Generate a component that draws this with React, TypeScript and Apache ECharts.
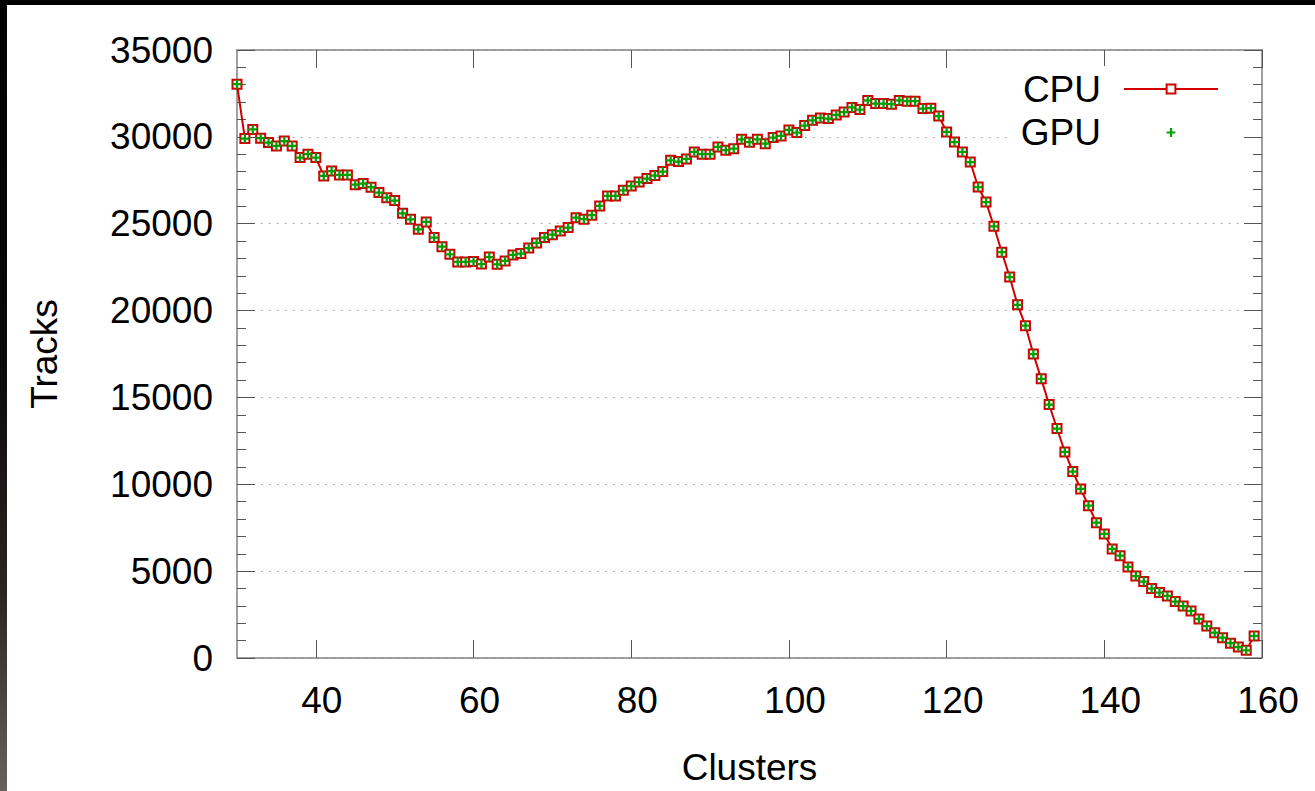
import React, { useEffect, useRef } from "react";
import * as echarts from "echarts";

const clusters = [
  30, 31, 32, 33, 34, 35, 36, 37, 38, 39, 40, 41, 42, 43, 44, 45, 46, 47, 48, 49,
  50, 51, 52, 53, 54, 55, 56, 57, 58, 59, 60, 61, 62, 63, 64, 65, 66, 67, 68, 69,
  70, 71, 72, 73, 74, 75, 76, 77, 78, 79, 80, 81, 82, 83, 84, 85, 86, 87, 88, 89,
  90, 91, 92, 93, 94, 95, 96, 97, 98, 99, 100, 101, 102, 103, 104, 105, 106, 107, 108, 109,
  110, 111, 112, 113, 114, 115, 116, 117, 118, 119, 120, 121, 122, 123, 124, 125, 126, 127, 128, 129,
  130, 131, 132, 133, 134, 135, 136, 137, 138, 139, 140, 141, 142, 143, 144, 145, 146, 147, 148, 149,
  150, 151, 152, 153, 154, 155, 156, 157, 158, 159,
];

const cpuTracks = [
  33030, 29900, 30430, 29920, 29670, 29480, 29760, 29480, 28810, 29000,
  28810, 27750, 28030, 27810, 27810, 27250, 27310, 27100, 26790, 26500,
  26330, 25600, 25250, 24680, 25100, 24200, 23680, 23240, 22800, 22800,
  22830, 22680, 23080, 22660, 22860, 23200, 23280, 23600, 23890, 24200,
  24370, 24580, 24780, 25350, 25260, 25490, 26020, 26600, 26600, 26920,
  27170, 27400, 27600, 27770, 28000, 28650, 28580, 28730, 29130, 29000,
  29000, 29420, 29230, 29320, 29860, 29690, 29860, 29610, 29960, 30050,
  30400, 30250, 30650, 30950, 31090, 31050, 31260, 31430, 31690, 31570,
  32100, 31920, 31920, 31880, 32100, 32050, 32050, 31630, 31650, 31200,
  30280, 29700, 29130, 28550, 27110, 26250, 24850, 23360, 21930, 20330,
  19130, 17500, 16070, 14590, 13210, 11860, 10730, 9730, 8770, 7790,
  7140, 6280, 5890, 5240, 4720, 4400, 4000, 3770, 3570, 3250,
  2990, 2710, 2250, 1840, 1460, 1170, 850, 630, 440, 1270,
];

const gpuTracks = [
  33030, 29900, 30430, 29920, 29670, 29480, 29760, 29480, 28810, 29000,
  28810, 27750, 28030, 27810, 27810, 27250, 27310, 27100, 26790, 26500,
  26330, 25600, 25250, 24680, 25100, 24200, 23680, 23240, 22800, 22800,
  22830, 22680, 23080, 22660, 22860, 23200, 23280, 23600, 23890, 24200,
  24370, 24580, 24780, 25350, 25260, 25490, 26020, 26600, 26600, 26920,
  27170, 27400, 27600, 27770, 28000, 28650, 28580, 28730, 29130, 29000,
  29000, 29420, 29230, 29320, 29860, 29690, 29860, 29610, 29960, 30050,
  30400, 30250, 30650, 30950, 31090, 31050, 31260, 31430, 31690, 31570,
  32100, 31920, 31920, 31880, 32100, 32050, 32050, 31630, 31650, 31200,
  30280, 29700, 29130, 28550, 27110, 26250, 24850, 23360, 21930, 20330,
  19130, 17500, 16070, 14590, 13210, 11860, 10730, 9730, 8770, 7790,
  7140, 6280, 5890, 5240, 4720, 4400, 4000, 3770, 3570, 3250,
  2990, 2710, 2250, 1840, 1460, 1170, 850, 630, 440, 1270,
];

const xTickValues = [40, 60, 80, 100, 120, 140, 160];
const seriesNames = ["CPU", "GPU"];

export default function App() {
  const ref = useRef<HTMLDivElement>(null);

  useEffect(() => {
    document.body.style.margin = "0";
    const chart = echarts.init(ref.current!, null, { renderer: "svg" });
    const font = "'Liberation Sans', Arial, Helvetica, sans-serif";
    const fs = 37;
    const borderLine = { show: true, onZero: false, lineStyle: { color: "#808080", width: 1.5 } };
    const tickStyle = { color: "#555", width: 1 };

    chart.setOption({
      animation: false,
      backgroundColor: "#ffffff",
      textStyle: { fontFamily: font },
      grid: { left: 237, right: 53, top: 50, bottom: 133 },
      legend: {
        orient: "vertical",
        right: 96,
        top: 69,
        padding: 0,
        align: "right",
        itemWidth: 94,
        itemHeight: 11,
        itemGap: 3.5,
        selectedMode: false,
        data: seriesNames,
        textStyle: { fontSize: fs, color: "#000", lineHeight: 40, padding: [0, 18, 0, 0], fontFamily: font },
      },
      graphic: [
        {
          type: "rect",
          z: 1,
          shape: { x: 1012, y: 66, width: 229, height: 92 },
          style: { fill: "#ffffff" },
        },
      ],
      xAxis: [
        {
          type: "value",
          position: "bottom",
          min: 30,
          max: 160,
          name: "Clusters",
          nameLocation: "middle",
          nameGap: 91,
          nameTextStyle: { fontSize: fs, color: "#000", fontFamily: font },
          axisLine: borderLine,
          axisTick: { show: true, inside: true, length: 18, customValues: xTickValues, lineStyle: tickStyle },
          axisLabel: {
            customValues: xTickValues,
            fontSize: fs,
            color: "#000",
            margin: 24,
            padding: [0, 0, 0, 12],
            fontFamily: font,
          },
          splitLine: { show: false },
        },
        {
          type: "value",
          position: "top",
          min: 30,
          max: 160,
          axisLine: borderLine,
          axisTick: { show: true, inside: true, length: 18, customValues: xTickValues, lineStyle: tickStyle },
          axisLabel: { show: false },
          splitLine: { show: false },
        },
      ],
      yAxis: [
        {
          type: "value",
          position: "left",
          min: 0,
          max: 35000,
          interval: 5000,
          name: "Tracks",
          nameLocation: "middle",
          nameGap: 174,
          nameTextStyle: { fontSize: fs, color: "#000", fontFamily: font },
          axisLine: borderLine,
          axisTick: { show: true, inside: true, length: 18, lineStyle: tickStyle },
          minorTick: { show: true, splitNumber: 5, length: 9, lineStyle: tickStyle },
          axisLabel: {
            fontSize: fs,
            color: "#000",
            margin: 24,
            fontFamily: font,
            formatter: (v: number) => String(v),
          },
          splitLine: { show: true, lineStyle: { color: "#9a9a9a", width: 1.2, type: [1.5, 6.5] } },
        },
        {
          type: "value",
          position: "right",
          min: 0,
          max: 35000,
          interval: 5000,
          axisLine: borderLine,
          axisTick: { show: true, inside: true, length: 18, lineStyle: tickStyle },
          minorTick: { show: true, splitNumber: 5, length: 9, lineStyle: tickStyle },
          axisLabel: { show: false },
          splitLine: { show: false },
        },
      ],
      series: [
        {
          name: seriesNames[0],
          type: "line",
          xAxisIndex: 0,
          yAxisIndex: 0,
          data: clusters.map((c, i) => [c, cpuTracks[i]]),
          symbol: "emptyRect",
          symbolSize: 9,
          showSymbol: true,
          lineStyle: { color: "#d00000", width: 2 },
          itemStyle: { color: "#d00000", borderWidth: 1.8 },
          z: 2,
        },
        {
          name: seriesNames[1],
          type: "line",
          xAxisIndex: 0,
          yAxisIndex: 0,
          data: clusters.map((c, i) => [c, gpuTracks[i]]),
          symbol: "path://M3,0h2v3h3v2h-3v3h-2v-3h-3v-2h3z",
          symbolSize: 9,
          showSymbol: true,
          lineStyle: { width: 0, opacity: 0 },
          itemStyle: { color: "#00a000" },
          z: 3,
        },
      ],
    });

    return () => {
      chart.dispose();
    };
  }, []);

  return (
    <div style={{ position: "relative", width: 1315, height: 791, background: "#fff", overflow: "hidden" }}>
      <div ref={ref} style={{ position: "absolute", left: 0, top: 0, width: 1315, height: 791 }} />
      <div
        style={{
          position: "absolute",
          left: 0,
          top: 0,
          width: 1315,
          height: 5,
          background: "#000",
          pointerEvents: "none",
        }}
      />
      <div
        style={{
          position: "absolute",
          left: 0,
          top: 0,
          width: 7,
          height: 791,
          background: "linear-gradient(to bottom, #000 0%, #0a0909 45%, #2a2523 75%, #6a5f5f 100%)",
          pointerEvents: "none",
        }}
      />
    </div>
  );
}
